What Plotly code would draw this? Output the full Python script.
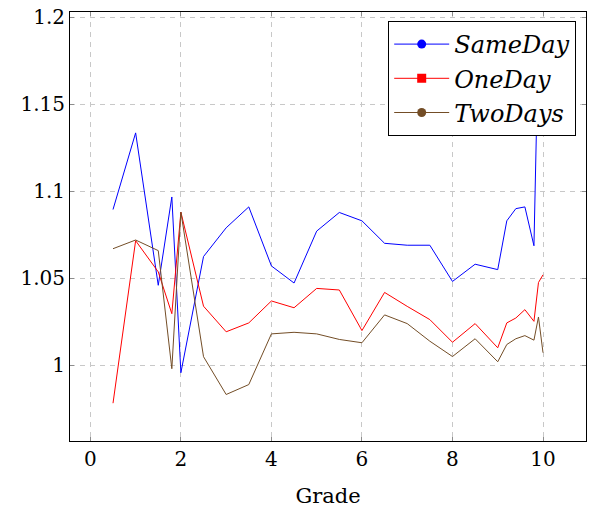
import plotly.graph_objects as go

grades = [0.5, 1.0, 1.5, 1.8, 2.0, 2.5, 3.0, 3.5, 4.0, 4.5, 5.0, 5.5, 6.0, 6.5,
          7.0, 7.5, 8.0, 8.5, 9.0, 9.2, 9.4, 9.6, 9.8, 9.9, 10.0]

same_day = [1.0895, 1.1335, 1.046, 1.0967, 0.9958, 1.0625, 1.079, 1.091, 1.0571,
            1.0473, 1.0771, 1.0878, 1.083, 1.0701, 1.069, 1.069, 1.0482, 1.0581,
            1.055, 1.083, 1.090, 1.091, 1.0687, 1.19, 1.16]

one_day = [0.9783, 1.0716, 1.0537, 1.0297, 1.088, 1.034, 1.0193, 1.0244, 1.037,
           1.0331, 1.0442, 1.0433, 1.020, 1.0419, 1.0339, 1.0263, 1.0133, 1.024,
           1.0101, 1.0244, 1.0272, 1.032, 1.0253, 1.0476, 1.052]

two_days = [1.067, 1.072, 1.0659, 0.9981, 1.088, 1.005, 0.9833, 0.989, 1.0181,
            1.019, 1.0181, 1.0149, 1.013, 1.029, 1.024, 1.0139, 1.0051, 1.0153,
            1.0021, 1.012, 1.0153, 1.0171, 1.0145, 1.0278, 1.0073]

x_ticks = [0, 2, 4, 6, 8, 10]
y_ticks = [1.0, 1.05, 1.1, 1.15, 1.2]
y_tick_labels = ["1", "1.05", "1.1", "1.15", "1.2"]

series = [
    ("SameDay", same_day, "#0000ff", "circle"),
    ("OneDay", one_day, "#ff0000", "square"),
    ("TwoDays", two_days, "#734d26", "circle"),
]

fig = go.Figure()
for name, vals, color, sym in series:
    fig.add_trace(go.Scatter(
        x=grades, y=vals, name=name, mode="lines", showlegend=False,
        line=dict(color=color, width=1),
    ))
for name, vals, color, sym in series:
    fig.add_trace(go.Scatter(
        x=[None], y=[None], name=name, mode="lines+markers",
        line=dict(color=color, width=1),
        marker=dict(symbol=sym, size=9, color=color),
    ))

grid = dict(showgrid=True, gridcolor="#c8c8c8", griddash="5px,5px", gridwidth=1)

fig.update_xaxes(
    range=[-0.45, 10.95], tickvals=x_ticks, zeroline=False,
    showline=True, linecolor="black", linewidth=1, mirror="ticks",
    ticks="inside", ticklen=4, tickcolor="#8c8c8c",
    tickfont=dict(family="DejaVu Serif", size=20, color="black"),
    title=dict(text="Grade", font=dict(family="DejaVu Serif", size=21, color="black"), standoff=18),
    **grid,
)
fig.update_yaxes(
    range=[0.9566, 1.2029], tickvals=y_ticks, ticktext=y_tick_labels, zeroline=False,
    showline=True, linecolor="black", linewidth=1, mirror="ticks",
    ticks="inside", ticklen=4, tickcolor="#8c8c8c",
    tickfont=dict(family="DejaVu Serif", size=20, color="black"),
    **grid,
)

fig.update_layout(
    width=592, height=510,
    margin=dict(l=69.5, r=5, t=10, b=69),
    paper_bgcolor="white", plot_bgcolor="white",
    showlegend=True,
    legend=dict(
        x=0.981, y=0.979, xanchor="right", yanchor="top",
        bgcolor="white", bordercolor="black", borderwidth=1,
        font=dict(family="DejaVu Serif", size=24, style="italic", color="black"),
        tracegroupgap=0, itemwidth=55,
    ),
)

fig.write_html("out.html")
